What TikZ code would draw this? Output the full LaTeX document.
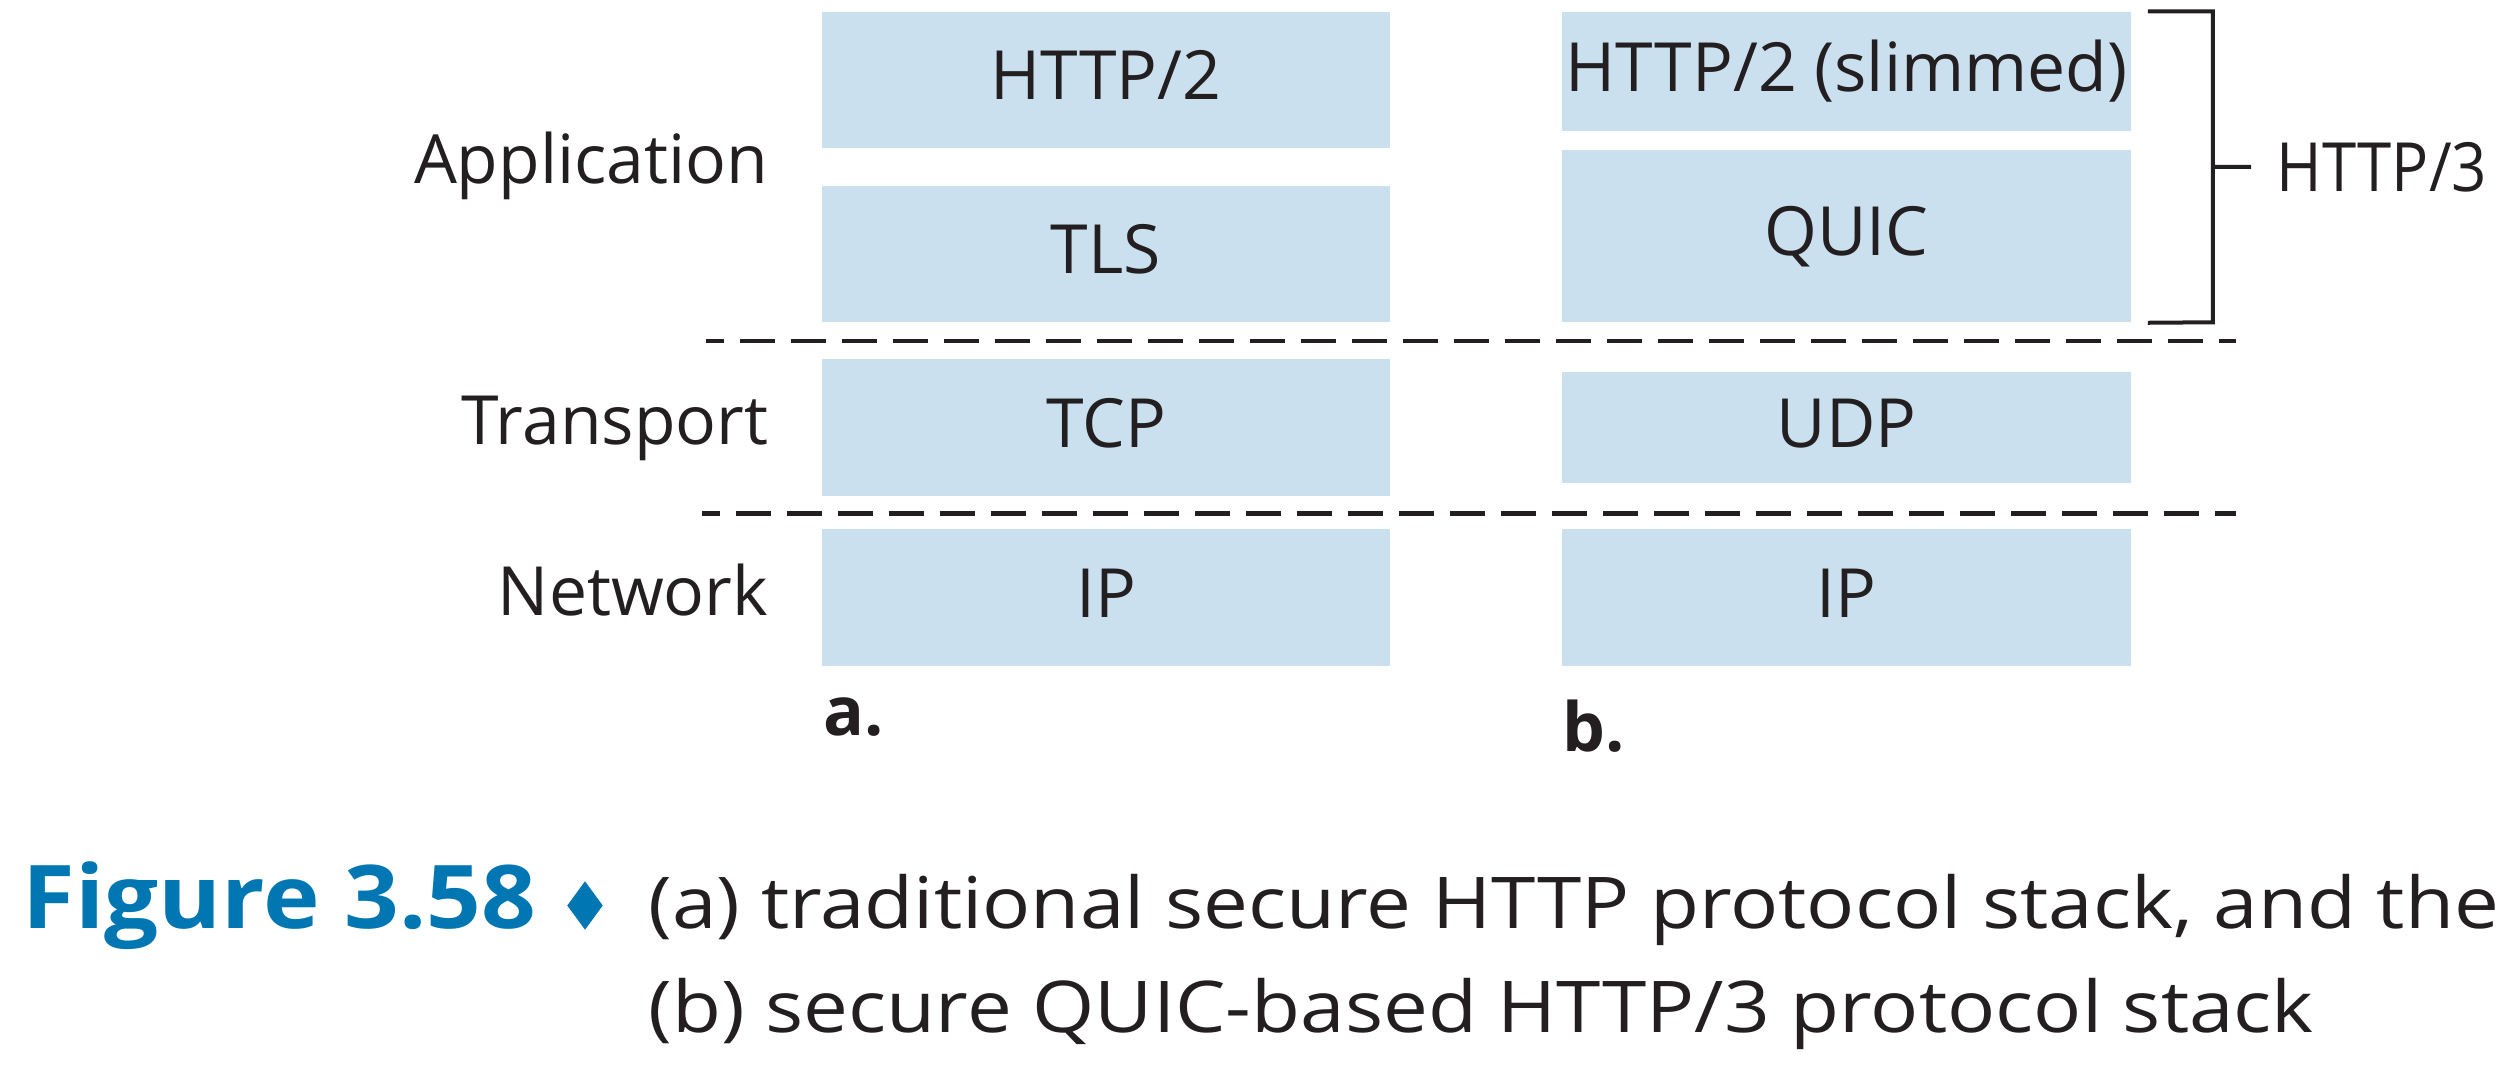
\documentclass[tikz,border=0pt]{standalone}
\usepackage{fontspec}
\setmainfont{Open Sans}
\newfontfamily\capfont[FakeStretch=1.12]{Open Sans}
\usetikzlibrary{shapes.geometric}

\definecolor{layerblue}{RGB}{203,224,239}
\definecolor{figblue}{RGB}{0,119,179}
\definecolor{inkblack}{RGB}{35,31,32}

\tikzset{
  layer/.style={fill=layerblue, text=inkblack, inner sep=0pt,
    text height=0.49cm, text depth=0.1cm, font=\fontsize{19.3}{23}\selectfont},
  stacklabel/.style={anchor=base east, text=inkblack, inner sep=0pt,
    font=\fontsize{19.3}{23}\selectfont},
  divider/.style={inkblack, line width=0.047cm, dash pattern=on 0.35cm off 0.16cm, dash phase=0.175cm},
  bracket/.style={inkblack, line width=0.04cm},
}

\begin{document}
\begin{tikzpicture}[x=0.01cm, y=-0.01cm]
        \useasboundingbox (0,0) rectangle (2508,1066);

        % Stack a: HTTP/2 over TLS over TCP
        \node[layer, minimum width=5.68cm, minimum height=1.36cm] (http2a) at (1106,80) {HTTP/2};
        \node[layer, minimum width=5.68cm, minimum height=1.36cm] (tlsa) at (1106,254) {TLS};
        \node[layer, minimum width=5.68cm, minimum height=1.37cm] (tcpa) at (1106,427.5) {TCP};
        \node[layer, minimum width=5.68cm, minimum height=1.37cm] (ipa) at (1106,597.5) {IP};

        % Stack b: HTTP/3 over UDP
        \node[layer, minimum width=5.69cm, minimum height=1.19cm] (http2b) at (1846.5,71.5) {HTTP/2 (slimmed)};
        \node[layer, minimum width=5.69cm, minimum height=1.72cm] (quicb) at (1846.5,236) {QUIC};
        \node[layer, minimum width=5.69cm, minimum height=1.11cm] (udpb) at (1846.5,427.5) {UDP};
        \node[layer, minimum width=5.69cm, minimum height=1.37cm] (ipb) at (1846.5,597.5) {IP};

        % Layer names
        \node[stacklabel] (app) at (769,183) {Application};
        \node[stacklabel] (trans) at (769,444) {Transport};
        \node[stacklabel] (net) at (769,615) {Network};

        % Dashed lines between layers
        \draw[divider] (706,341) -- (2236,341);
        \draw[divider] (702,513.5) -- (2236,513.5);

        % Bracket for HTTP/3
        \node[anchor=base west, text=inkblack, inner sep=0pt, font=\fontsize{19.3}{23}\selectfont] (h3) at (2276,191) {\scalebox{0.91}[1]{HTTP/3}};
        \draw[bracket] ([xshift=0.16cm]http2b.north east) -- ++(65,0) -- ++(0,311) -- ([xshift=0.16cm]quicb.south east);
        \draw[bracket] (2212,167) -- ([xshift=-0.25cm]h3.west);

        % a. and b.
        \node[anchor=base west, inner sep=0pt, text=inkblack, font=\fontsize{19.3}{23}\selectfont\bfseries] (lba) at (823,735) {a.};
        \node[anchor=base west, inner sep=0pt, text=inkblack, font=\fontsize{19.3}{23}\selectfont\bfseries] (lbb) at (1562,751) {b.};

        % Caption
        \node[anchor=base west, inner sep=0pt, text=figblue, font=\fontsize{25}{30}\selectfont\bfseries] (fig) at (22,928) {\scalebox{1.09}[1]{Figure 3.58}};
        \node[shape=diamond, fill=figblue, inner sep=0pt, minimum width=0.36cm, minimum height=0.49cm] (dia) at (585,905.5) {};
        \node[anchor=base west, inner sep=0pt, text=inkblack, font=\capfont\fontsize{20.3}{24}\selectfont] (cap1) at (648,928) {(a) traditional secure HTTP protocol stack, and the};
        \node[anchor=base west, inner sep=0pt, text=inkblack, font=\capfont\fontsize{20.3}{24}\selectfont] (cap2) at (648,1032) {(b) secure QUIC-based HTTP/3 protocol stack};
    \end{tikzpicture}
\end{document}
